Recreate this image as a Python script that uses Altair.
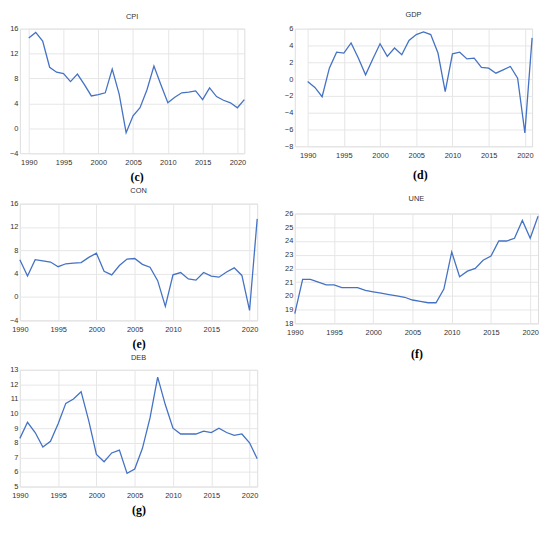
import altair as alt
import pandas as pd

years = list(range(1990, 2022))

cpi = [14.5, 15.4, 14.0, 9.8, 9.0, 8.8, 7.5, 8.7, 7.0, 5.2, 5.4, 5.7, 9.5, 5.5, -0.7, 2.0,
       3.3, 6.2, 10.0, 7.0, 4.1, 5.0, 5.7, 5.8, 6.0, 4.6, 6.5, 5.1, 4.5, 4.1, 3.3, 4.6]
gdp = [-0.3, -1.0, -2.1, 1.3, 3.2, 3.1, 4.3, 2.5, 0.5, 2.4, 4.2, 2.7, 3.7, 2.9, 4.6, 5.3,
       5.6, 5.3, 3.1, -1.5, 3.0, 3.2, 2.4, 2.5, 1.4, 1.3, 0.7, 1.1, 1.5, 0.1, -6.4, 4.9]
con = [6.4, 3.6, 6.4, 6.2, 6.0, 5.2, 5.7, 5.8, 5.9, 6.8, 7.5, 4.4, 3.8, 5.4, 6.5, 6.6,
       5.6, 5.1, 2.8, -1.6, 3.8, 4.2, 3.1, 2.9, 4.2, 3.6, 3.4, 4.3, 5.0, 3.7, -2.3, 13.4]
une = [18.7, 21.2, 21.2, 21.0, 20.8, 20.8, 20.6, 20.6, 20.6, 20.4, 20.3, 20.2, 20.1, 20.0, 19.9, 19.7,
       19.6, 19.5, 19.5, 20.5, 23.2, 21.4, 21.8, 22.0, 22.6, 22.9, 24.0, 24.0, 24.2, 25.5, 24.2, 25.8]
deb = [8.3, 9.4, 8.7, 7.7, 8.1, 9.3, 10.7, 11.0, 11.5, 9.5, 7.2, 6.7, 7.3, 7.5, 5.9, 6.2,
       7.6, 9.7, 12.5, 10.6, 9.0, 8.6, 8.6, 8.6, 8.8, 8.7, 9.0, 8.7, 8.5, 8.6, 8.0, 6.9]

x_ticks = [1990, 1995, 2000, 2005, 2010, 2015, 2020]

FONT = "Liberation Sans"
LINE = "#4472C4"


def panel(name, label, values, ydom, ystep, width, height, x_start=0,
          title_offset=4, x_lab_pad=5, label_pad=6):
    df = pd.DataFrame({"year": years, "value": values})
    yticks = list(range(ydom[0], ydom[1] + 1, ystep))
    xscale = dict(domain=[1990, 2021], nice=False, zero=False)
    if x_start > 0:
        xscale["range"] = [x_start, width]
    return alt.Chart(df).mark_line(color=LINE, strokeWidth=1.3).encode(
        x=alt.X("year:Q", scale=alt.Scale(**xscale),
                axis=alt.Axis(values=x_ticks, format="d", grid=True, gridColor="#e6e6e6",
                              domain=False, ticks=False, labelFontSize=7.5, labelFont=FONT,
                              labelColor="#333333", labelPadding=x_lab_pad, labelFlush=False,
                              labelOverlap=False,
                              title=label, titleFont="Liberation Serif", titleFontSize=12,
                              titleFontWeight="bold", titleColor="#000000",
                              titlePadding=label_pad)),
        y=alt.Y("value:Q", scale=alt.Scale(domain=list(ydom), nice=False, zero=False),
                axis=alt.Axis(values=yticks, grid=True, gridColor="#e6e6e6", domain=False,
                              ticks=False, labelFontSize=7.5, labelFont=FONT,
                              labelColor="#333333", labelPadding=2, labelFlush=False,
                              title=None)),
    ).properties(
        width=width, height=height,
        title=alt.TitleParams(name, fontSize=7.5, font=FONT, fontWeight="normal",
                              color="#333333", offset=title_offset),
    )


c_cpi = panel("CPI", "(c)", cpi, (-4, 16), 4, 227, 126, x_start=9, title_offset=4, label_pad=6)
c_con = panel("CON", "(e)", con, (-4, 16), 4, 240, 118, title_offset=5, label_pad=6)
c_deb = panel("DEB", "(g)", deb, (5, 13), 1, 240, 118, title_offset=4, label_pad=6)
c_gdp = panel("GDP", "(d)", gdp, (-8, 6), 2, 240, 119, x_start=13, title_offset=6, label_pad=11)
c_une = panel("UNE", "(f)", une, (18, 26), 1, 246, 111, title_offset=7, label_pad=13)

left = alt.vconcat(c_cpi, c_con, c_deb, spacing=4)
right = alt.vconcat(c_gdp, c_une, spacing=14)

chart = alt.hconcat(left, right, spacing=22).properties(
    padding={"left": 0, "top": 0, "right": 0, "bottom": 0}
).configure_view(stroke=None).configure(background="white")

chart.save("out.html", embed_options={"renderer": "svg", "actions": False})
